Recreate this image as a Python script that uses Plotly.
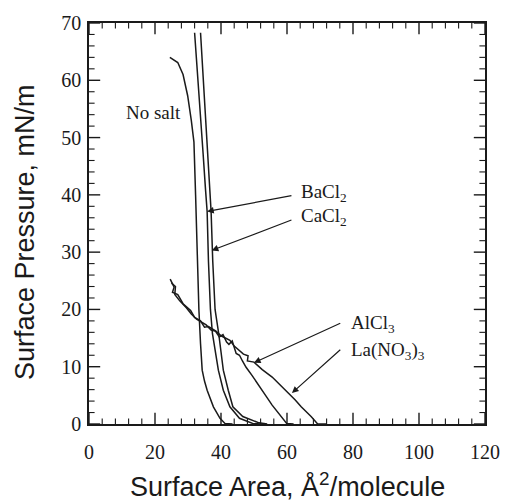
import plotly.graph_objects as go

# ---- data ----
nosalt_x = [24.5, 26.9, 28.5, 29.9, 31.0, 31.8, 32.3, 32.8, 33.3, 33.8, 34.3, 35.0, 35.8, 37.7, 39.7, 41.2, 43.5]
nosalt_y = [64.0, 63.1, 61.0, 57.3, 53.0, 49.2, 40.0, 28.4, 20.0, 14.0, 9.4, 7.5, 5.9, 3.0, 1.0, 0.1, 0.0]

bacl2_x = [32.0, 33.1, 34.0, 34.6, 35.3, 35.8, 36.2, 36.8, 37.4, 38.3, 39.2, 40.7, 42.7, 45.6, 49.6, 52.0]
bacl2_y = [68.3, 58.5, 51.0, 47.0, 41.0, 37.1, 28.4, 20.0, 15.8, 12.5, 9.4, 5.9, 3.0, 1.0, 0.1, 0.0]

cacl2_x = [33.8, 34.8, 35.8, 36.3, 37.0, 37.5, 38.2, 39.3, 40.0, 40.7, 42.2, 43.6, 46.6, 51.5, 54.0]
cacl2_y = [68.3, 58.5, 49.2, 44.0, 37.1, 28.4, 20.0, 15.8, 12.5, 9.4, 5.9, 3.0, 1.3, 0.2, 0.0]

alcl3_x = [24.6, 25.8, 25.3, 26.9, 28.5, 30.8, 32.0, 33.8, 35.0, 36.2, 38.2, 39.5, 40.6, 41.7, 42.4,
           43.4, 44.6, 45.6, 46.5, 47.6, 49.5, 51.5, 53.5, 55.5, 57.0, 58.4, 59.9, 62.0]
alcl3_y = [25.3, 23.9, 23.0, 22.6, 21.0, 19.8, 18.6, 18.0, 16.9, 17.0, 16.3, 15.2, 15.6, 14.3, 13.9,
           14.5, 12.3, 12.0, 11.0, 9.9, 8.4, 6.8, 5.0, 3.3, 2.2, 1.3, 0.1, 0.0]

la_x = [25.0, 26.2, 26.0, 27.5, 29.5, 31.0, 32.6, 34.0, 35.5, 37.0, 38.5, 40.0, 41.3, 42.7, 44.0,
        45.6, 46.8, 48.2, 48.0, 50.0, 52.5, 55.5, 58.0, 60.4, 62.5, 64.3, 65.8, 67.3, 69.3, 72.0]
la_y = [24.6, 24.0, 22.6, 21.5, 20.3, 19.2, 18.3, 17.8, 17.3, 16.4, 16.2, 15.4, 15.0, 14.6, 13.6,
        12.8, 12.2, 11.9, 11.0, 10.8, 9.5, 8.2, 6.8, 5.3, 4.2, 3.0, 2.2, 1.3, 0.0, 0.0]

x_range = [0, 120]
y_range = [0, 70]
x_major = [0, 20, 40, 60, 80, 100, 120]
y_major = [0, 10, 20, 30, 40, 50, 60, 70]
x_minor = [v for v in range(0, 121, 4) if v not in x_major]
y_minor = [v for v in range(0, 71, 2) if v not in y_major]

# label text, label anchor (data), arrow head (data), arrow tail (data)
labels = ["No salt", "BaCl<sub>2</sub>", "CaCl<sub>2</sub>", "AlCl<sub>3</sub>", "La(NO<sub>3</sub>)<sub>3</sub>"]
label_x = [19.5, 63.5, 63.5, 78.9, 78.9]
label_y = [54.4, 40.4, 36.2, 17.5, 12.8]
arrow_head_x = [None, 35.8, 37.2, 50.0, 61.5]
arrow_head_y = [None, 37.1, 30.3, 10.7, 5.4]
arrow_tail_x = [None, 61.8, 61.8, 76.6, 76.6]
arrow_tail_y = [None, 39.9, 35.7, 17.7, 13.2]

LINE = "#1a1a1a"
SERIF = "Liberation Serif, Times New Roman, serif"
SANS = "Liberation Sans, Arial, sans-serif"

W, H = 512, 504
M_L, M_R, M_T, M_B = 89, 17, 20, 80
MAJOR_LEN, MINOR_LEN = 8, 4

fig = go.Figure()
for xs, ys in [(nosalt_x, nosalt_y), (bacl2_x, bacl2_y), (cacl2_x, cacl2_y),
               (alcl3_x, alcl3_y), (la_x, la_y)]:
    fig.add_trace(go.Scatter(x=xs, y=ys, mode="lines",
                             line=dict(color=LINE, width=1.5), showlegend=False))


# inward tick marks on all four sides: line markers centred on the frame,
# the outer half is clipped away by the plot area
def tick_markers(vals_x, vals_y, ln, width):
    xs = [v for v in vals_x for _ in (0, 1)]
    ys = [y_range[k] for _ in vals_x for k in (0, 1)]
    fig.add_trace(go.Scatter(x=xs, y=ys, mode="markers", showlegend=False, hoverinfo="skip",
                             cliponaxis=True,
                             marker=dict(symbol="line-ns", size=2 * ln, color=LINE,
                                         line=dict(color=LINE, width=width))))
    xs = [x_range[k] for _ in vals_y for k in (0, 1)]
    ys = [v for v in vals_y for _ in (0, 1)]
    fig.add_trace(go.Scatter(x=xs, y=ys, mode="markers", showlegend=False, hoverinfo="skip",
                             cliponaxis=True,
                             marker=dict(symbol="line-ew", size=2 * ln, color=LINE,
                                         line=dict(color=LINE, width=width))))


tick_markers(x_major, y_major, MAJOR_LEN, 1.4)
tick_markers(x_minor, y_minor, MINOR_LEN, 1.1)

annotations = []
for i, t in enumerate(labels):
    annotations.append(dict(x=label_x[i], y=label_y[i], xref="x", yref="y", text=t,
                            showarrow=False, xanchor="left" if i > 0 else "center",
                            yanchor="middle",
                            font=dict(family=SERIF, size=19, color=LINE)))
    if arrow_head_x[i] is not None:
        annotations.append(dict(x=arrow_head_x[i], y=arrow_head_y[i], xref="x", yref="y",
                                ax=arrow_tail_x[i], ay=arrow_tail_y[i], axref="x", ayref="y",
                                text="", showarrow=True, arrowhead=2, arrowsize=1.1,
                                arrowwidth=1.2, arrowcolor=LINE))

annotations.append(dict(x=0.5, y=-0.151, xref="paper", yref="paper",
                        text="Surface Area, Å<sup>2</sup>/molecule", showarrow=False,
                        xanchor="center", yanchor="middle",
                        font=dict(family=SANS, size=27, color=LINE)))
annotations.append(dict(x=-0.163, y=0.48, xref="paper", yref="paper",
                        text="Surface Pressure, mN/m", showarrow=False, textangle=-90,
                        xanchor="center", yanchor="middle",
                        font=dict(family=SANS, size=27, color=LINE)))

axis_common = dict(showline=True, linecolor=LINE, linewidth=1.5, mirror=True,
                   ticks="", showgrid=False, zeroline=False,
                   tickfont=dict(family=SERIF, size=20, color=LINE))

fig.update_layout(
    width=W, height=H,
    margin=dict(l=M_L, r=M_R, t=M_T, b=M_B),
    paper_bgcolor="white", plot_bgcolor="white",
    xaxis=dict(range=x_range, tickvals=x_major, ticklabelstandoff=9, **axis_common),
    yaxis=dict(range=y_range, tickvals=y_major, ticklabelstandoff=2, **axis_common),
    annotations=annotations,
)

fig.write_html("out.html")
